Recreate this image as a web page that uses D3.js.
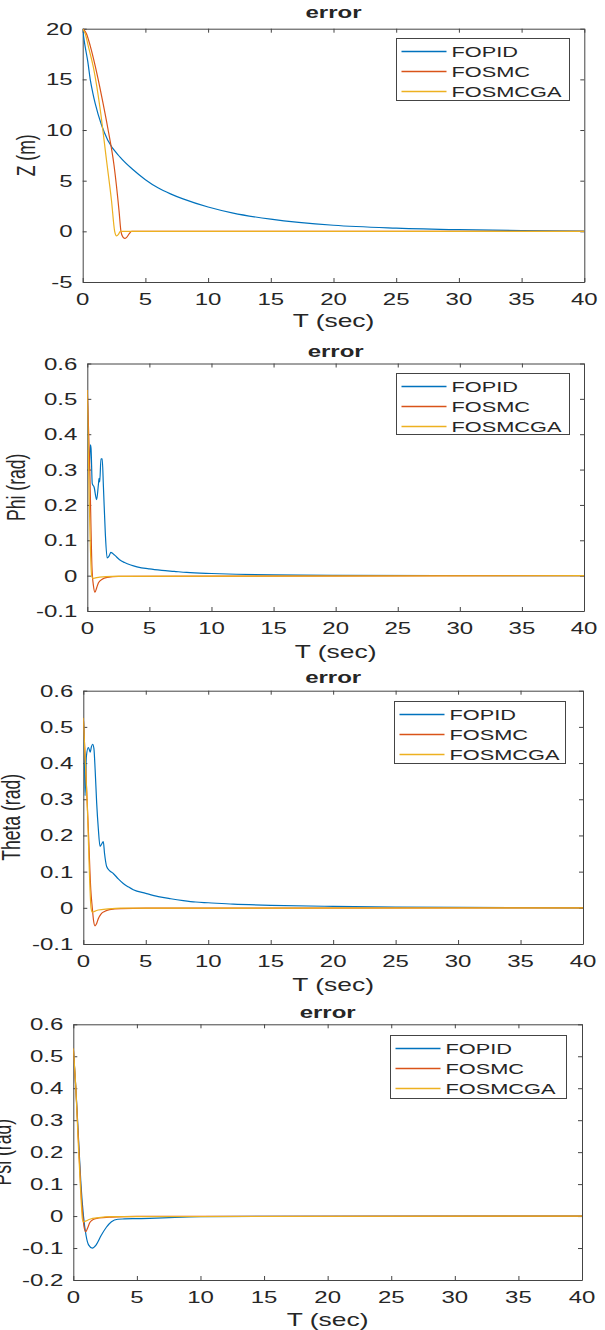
<!DOCTYPE html>
<html lang="en">
<head>
    <meta charset="utf-8">
    <script type="text/javascript" src="https://d3js.org/d3.v7.min.js"></script>
    <title>error plots</title>
    <style>
        html, body {
            margin: 0;
            padding: 0;
            background: white;
        }
        svg text {
            font-family: "Liberation Sans", Arial, sans-serif;
            fill: #262626;
        }
    </style>
</head>
<body>
    <div id="chart"></div>

    <script type="text/javascript">

        // ---------- DATA ----------
        const seriesNames = ["FOPID", "FOSMC", "FOSMCGA"];
        const seriesColors = ["#0072BD", "#D95319", "#EDB120"];
        const tTicks = [0, 5, 10, 15, 20, 25, 30, 35, 40];

        // Z (m)
        const zTicks = [-5, 0, 5, 10, 15, 20];
        const zFopid = [[0,20],[0.1,19],[0.2,18.2],[0.4,16.8],[0.6,15],[0.8,13.7],[1,12.6],[1.5,10.5],[2,9],
            [3,7.3],[4,6.1],[5,5.1],[6,4.3],[7,3.7],[8,3.2],[10,2.4],[12,1.8],[15,1.2],[20,0.6],[25,0.32],
            [30,0.16],[35,0.07],[40,0.02]];
        const zFosmc = [[0,20],[0.3,19.5],[0.6,18.3],[1,16.3],[1.5,13.4],[2,10.2],[2.5,6.5],[2.9,2],[3.05,0],
            [3.2,-0.55],[3.35,-0.7],[3.5,-0.6],[3.7,-0.25],[3.9,0],[40,0]];
        const zFosmcga = [[0,20],[0.2,19.5],[0.5,18],[0.85,16.2],[1.4,12],[1.9,7],[2.3,3],[2.55,0],[2.7,-0.45],
            [2.85,-0.3],[3,0],[40,0]];

        // Phi (rad)
        const angTicks = [-0.1, 0, 0.1, 0.2, 0.3, 0.4, 0.5, 0.6];
        const phiFopid = [[0,0.52],[0.15,0.3],[0.25,0.37],[0.3,0.36],[0.4,0.26],[0.55,0.25],[0.75,0.215],
            [0.9,0.26],[0.95,0.275],[1.0,0.265],[1.1,0.33],[1.2,0.33],[1.3,0.25],[1.45,0.12],[1.6,0.05],
            [1.75,0.055],[1.9,0.066],[2.2,0.058],[2.6,0.045],[3,0.037],[3.5,0.03],[4,0.025],[5,0.019],
            [6,0.015],[7,0.012],[8,0.009],[10,0.006],[12,0.004],[15,0.002],[20,0.001],[40,0]];
        const phiFosmc = [[0,0.525],[0.2,0.3],[0.38,0.02],[0.5,-0.03],[0.62,-0.047],[0.75,-0.035],[0.9,-0.02],
            [1.2,-0.01],[1.6,-0.005],[2.5,-0.002],[40,0]];
        const phiFosmcga = [[0,0.525],[0.35,0],[0.45,-0.008],[0.6,-0.007],[1,-0.004],[2,-0.002],[40,0]];

        // Theta (rad)
        const thetaFopid = [[0,0.525],[0.08,0.45],[0.14,0.31],[0.25,0.42],[0.4,0.443],[0.5,0.435],[0.55,0.43],
            [0.65,0.445],[0.75,0.452],[0.85,0.44],[0.95,0.38],[1.07,0.29],[1.2,0.22],[1.34,0.17],[1.45,0.175],
            [1.6,0.183],[1.7,0.15],[1.87,0.114],[2.1,0.103],[2.4,0.095],[2.8,0.08],[3.2,0.067],[3.6,0.058],
            [4,0.05],[5,0.04],[6,0.031],[7,0.025],[8,0.02],[9,0.016],[10,0.014],[12,0.01],[15,0.007],
            [20,0.004],[25,0.002],[30,0.001],[40,0]];
        const thetaFosmc = [[0,0.525],[0.2,0.38],[0.4,0.22],[0.6,0.05],[0.72,0],[0.82,-0.035],[0.94,-0.05],
            [1.05,-0.045],[1.2,-0.03],[1.4,-0.018],[1.7,-0.01],[2.1,-0.005],[3,-0.002],[5,-0.001],[40,0]];
        const thetaFosmcga = [[0,0.525],[0.3,0.3],[0.62,0],[0.72,-0.012],[0.9,-0.01],[1.2,-0.006],[2,-0.003],
            [3,-0.001],[40,0]];

        // Psi (rad)
        const psiTicks = [-0.2, -0.1, 0, 0.1, 0.2, 0.3, 0.4, 0.5, 0.6];
        const psiFopid = [[0,0.525],[0.2,0.4],[0.4,0.25],[0.6,0.1],[0.8,0],[1.0,-0.06],[1.2,-0.09],[1.5,-0.1],
            [1.8,-0.09],[2.2,-0.06],[2.6,-0.035],[3,-0.018],[3.5,-0.01],[4,-0.009],[5,-0.008],[6,-0.007],
            [8,-0.004],[10,-0.002],[15,-0.0005],[40,0]];
        const psiFosmc = [[0,0.525],[0.2,0.4],[0.4,0.24],[0.6,0.08],[0.75,0],[0.85,-0.035],[0.98,-0.049],
            [1.1,-0.04],[1.3,-0.02],[1.6,-0.01],[2,-0.006],[3,-0.003],[5,-0.001],[40,0]];
        const psiFosmcga = [[0,0.525],[0.2,0.4],[0.4,0.22],[0.6,0.06],[0.72,-0.01],[0.8,-0.018],[1,-0.015],
            [1.3,-0.01],[2,-0.005],[3,-0.002],[40,0]];

        // ---------- LAYOUT ----------
        const SX = 1.5;   // the picture is stretched sideways, so the text is too
        const axisColor = "#444";

        const panels = [
            { ylabel: "Z (m)", yDomain: [-5, 20], yTicks: zTicks, series: [zFopid, zFosmc, zFosmcga],
              box: {l: 82.7, r: 584.3, t: 28.7, b: 282}, titleY: 18, xlabY: 327, ylabX: 35,
              legend: {x: 396.5, y: 38.5, w: 173, h: 62} },
            { ylabel: "Phi (rad)", yDomain: [-0.1, 0.6], yTicks: angTicks, series: [phiFopid, phiFosmc, phiFosmcga],
              box: {l: 87.3, r: 584, t: 363.5, b: 611}, titleY: 357, xlabY: 658, ylabX: 25,
              legend: {x: 396.5, y: 373.5, w: 173, h: 61} },
            { ylabel: "Theta (rad)", yDomain: [-0.1, 0.6], yTicks: angTicks, series: [thetaFopid, thetaFosmc, thetaFosmcga],
              box: {l: 83.3, r: 583, t: 690.7, b: 944}, titleY: 683, xlabY: 991, ylabX: 20,
              legend: {x: 394.5, y: 701.5, w: 171, h: 62} },
            { ylabel: "Psi (rad)", yDomain: [-0.2, 0.6], yTicks: psiTicks, series: [psiFopid, psiFosmc, psiFosmcga],
              box: {l: 73.3, r: 582, t: 1024.3, b: 1280}, titleY: 1018, xlabY: 1326, ylabX: 11,
              legend: {x: 390.5, y: 1035.5, w: 176, h: 63} }
        ];

        const svg = d3.select("#chart")
            .append("svg")
                .attr("width", 605)
                .attr("height", 1330);

        // Text helper: place and stretch horizontally (screen space)
        function putText(g, str, x, y, opts) {
            const rot = opts.rotate ? ` rotate(${opts.rotate})` : "";
            return g.append("text")
                .attr("transform", `translate(${x},${y}) scale(${SX},1)${rot}`)
                .attr("text-anchor", opts.anchor || "middle")
                .style("font-size", opts.size + "px")
                .style("font-weight", opts.bold ? "bold" : "normal")
                .text(str);
        }

        panels.forEach((p, i) => {
            const g = svg.append("g");
            const bx = p.box;

            const x = d3.scaleLinear().domain([0, 40]).range([bx.l, bx.r]);
            const y = d3.scaleLinear().domain(p.yDomain).range([bx.b, bx.t]);

            // Clip for the curves
            g.append("clipPath").attr("id", "clip" + i)
                .append("rect")
                    .attr("x", bx.l).attr("y", bx.t)
                    .attr("width", bx.r - bx.l).attr("height", bx.b - bx.t);

            // Axes (MATLAB style: ticks inside, on all four sides)
            const tickLen = 4;
            const bottomAx = g.append("g")
                .attr("transform", `translate(0,${bx.b})`)
                .call(d3.axisBottom(x).tickValues(tTicks).tickSizeInner(-tickLen).tickSizeOuter(0).tickFormat(""));
            const topAx = g.append("g")
                .attr("transform", `translate(0,${bx.t})`)
                .call(d3.axisTop(x).tickValues(tTicks).tickSizeInner(-tickLen).tickSizeOuter(0).tickFormat(""));
            const leftAx = g.append("g")
                .attr("transform", `translate(${bx.l},0)`)
                .call(d3.axisLeft(y).tickValues(p.yTicks).tickSizeInner(-tickLen).tickSizeOuter(0).tickFormat(""));
            const rightAx = g.append("g")
                .attr("transform", `translate(${bx.r},0)`)
                .call(d3.axisRight(y).tickValues(p.yTicks).tickSizeInner(-tickLen).tickSizeOuter(0).tickFormat(""));
            [bottomAx, topAx, leftAx, rightAx].forEach(a => {
                a.selectAll("path").attr("stroke", axisColor);
                a.selectAll("line").attr("stroke", axisColor);
            });

            // Tick labels
            tTicks.forEach(t => putText(g, String(t), x(t), bx.b + 23, {size: 16}));
            p.yTicks.forEach(v => putText(g, String(+v.toFixed(1)), bx.l - 10, y(v) + 6, {size: 16, anchor: "end"}));

            // Curves
            const line = d3.line()
                .x(d => x(d[0]))
                .y(d => y(d[1]))
                .curve(d3.curveMonotoneX);
            p.series.forEach((s, k) => {
                g.append("path")
                    .datum(s)
                    .attr("clip-path", `url(#clip${i})`)
                    .attr("fill", "none")
                    .attr("stroke", seriesColors[k])
                    .attr("stroke-width", 1.2)
                    .attr("d", line);
            });

            // Titles and labels
            putText(g, "error", (bx.l + bx.r) / 2, p.titleY, {size: 16, bold: true});
            putText(g, "T (sec)", (bx.l + bx.r) / 2, p.xlabY, {size: 17.6});
            putText(g, p.ylabel, p.ylabX, (bx.t + bx.b) / 2, {size: 17.6, rotate: -90});

            // Legend
            const lg = p.legend;
            g.append("rect")
                .attr("x", lg.x).attr("y", lg.y)
                .attr("width", lg.w).attr("height", lg.h)
                .attr("fill", "white")
                .attr("stroke", axisColor)
                .attr("stroke-width", 1);
            seriesNames.forEach((name, k) => {
                const ry = Math.round(lg.y + 12 + k * 20) + 0.5;
                g.append("line")
                    .attr("x1", lg.x + 5).attr("x2", lg.x + 50)
                    .attr("y1", ry).attr("y2", ry)
                    .attr("stroke", seriesColors[k])
                    .attr("stroke-width", 1.3);
                putText(g, name, lg.x + 55, ry + 5.3, {size: 14.5, anchor: "start"});
            });
        });

    </script>
</body>
</html>
